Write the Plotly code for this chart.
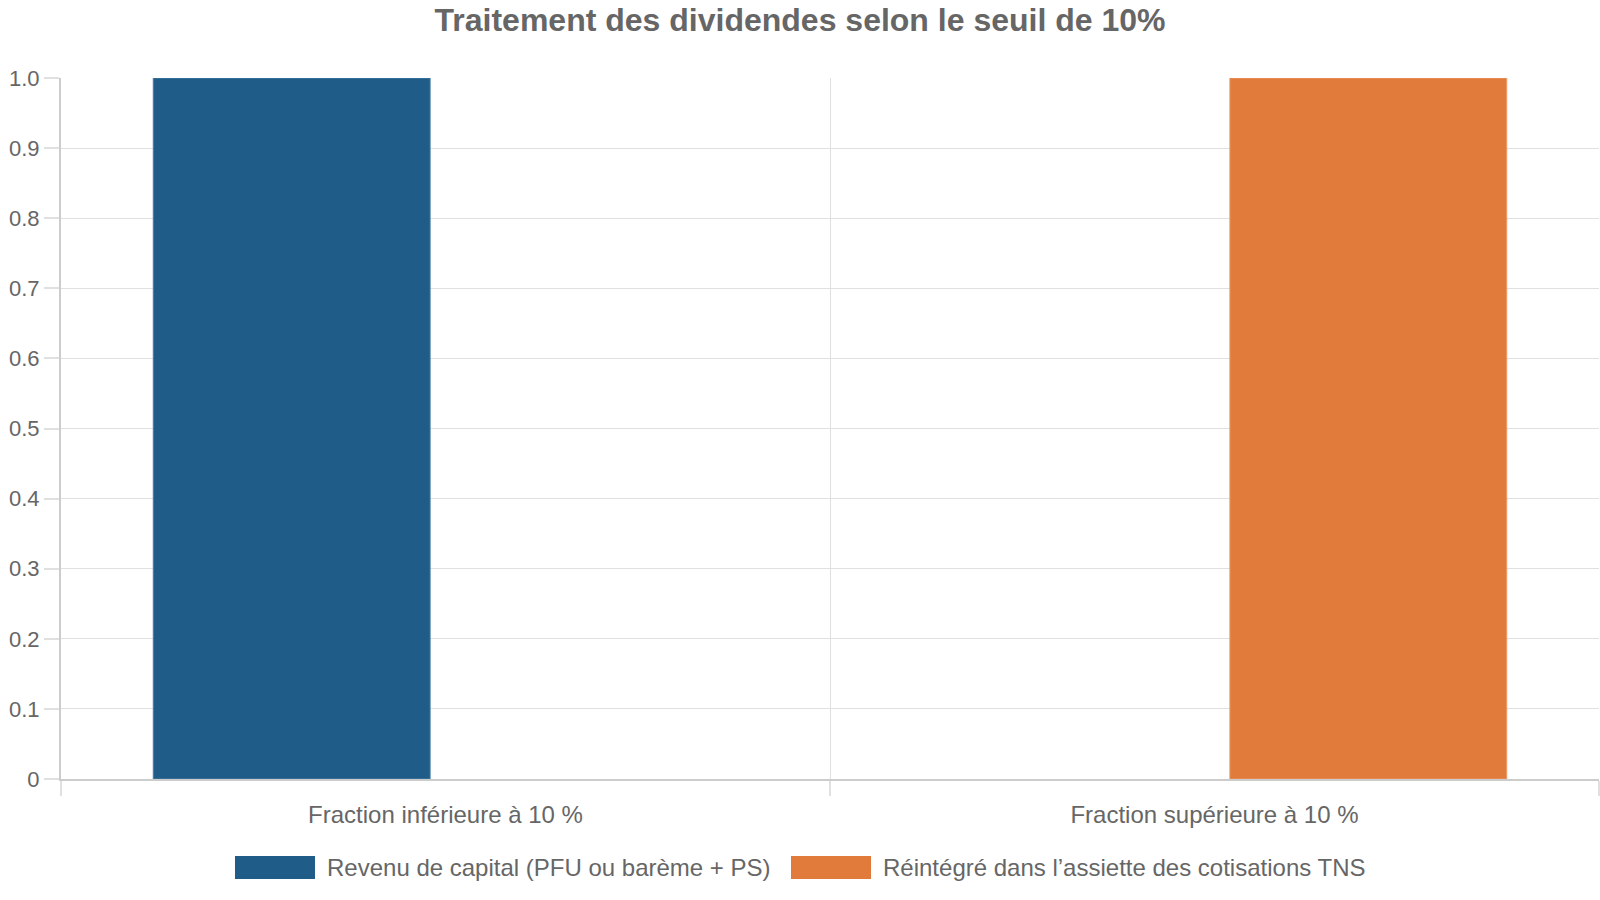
import plotly.graph_objects as go

# Chart data
categories = ["Fraction inférieure à 10 %", "Fraction supérieure à 10 %"]
series_names = ["Revenu de capital (PFU ou barème + PS)",
                "Réintégré dans l’assiette des cotisations TNS"]
capital_values = [1, 0]
tns_values = [0, 1]
y_ticks = [0, 0.1, 0.2, 0.3, 0.4, 0.5, 0.6, 0.7, 0.8, 0.9, 1.0]
y_tick_labels = ["0", "0.1", "0.2", "0.3", "0.4", "0.5", "0.6", "0.7", "0.8", "0.9", "1.0"]

colors = ["#1f5c87", "#e07b3b"]
borders = ["#4a7ea3", "#eb9a66"]
text_color = "#666666"
grid_color = "#e0e0e0"
font_family = "Liberation Sans, Arial, sans-serif"

W, H = 1600, 900
L, R, T, B = 61, 1, 78, 121

fig = go.Figure()
for name, vals, col, bcol in zip(series_names, [capital_values, tns_values], colors, borders):
    # no border on empty bars, otherwise a thin line shows on the axis
    fig.add_trace(go.Bar(x=categories, y=vals, name=name,
                         marker=dict(color=col,
                                     line=dict(color=bcol, width=[1 if v else 0 for v in vals]))))

fig.update_layout(
    width=W, height=H,
    margin=dict(l=L, r=R, t=T, b=B),
    paper_bgcolor="white", plot_bgcolor="white",
    barmode="group", bargap=0.2, bargroupgap=0.1,
    showlegend=False,
    font=dict(family=font_family, color=text_color, size=24),
    title=dict(text="<b>Traitement des dividendes selon le seuil de 10%</b>",
               x=0.5, xref="container", xanchor="center",
               y=1 - 20 / H, yref="container", yanchor="middle",
               font=dict(size=32, color=text_color, family=font_family)),
)

fig.update_xaxes(
    type="category", range=[-0.5, 1.5],
    tickson="boundaries", ticks="outside", ticklen=15, tickcolor=grid_color, tickwidth=2,
    showgrid=True, gridcolor=grid_color, gridwidth=1,
    showline=True, linecolor="#cccccc", linewidth=2,
    tickfont=dict(size=24, color=text_color), ticklabelstandoff=13,
    zeroline=False,
)
fig.update_yaxes(
    range=[0, 1], tickvals=y_ticks, ticktext=y_tick_labels,
    ticks="outside", ticklen=15, tickcolor=grid_color, tickwidth=2,
    showgrid=True, gridcolor=grid_color, gridwidth=1,
    showline=True, linecolor="#cccccc", linewidth=2,
    tickfont=dict(size=22, color=text_color),
    zeroline=False,
)

# Custom legend below the chart (wide colour boxes as in the original)
pw, ph = W - L - R, H - T - B


def px_x(px):
    return (px - L) / pw


def px_y(py):
    return (H - B - py) / ph


legend_boxes = [235, 791]
for bx, name, col in zip(legend_boxes, series_names, colors):
    fig.add_shape(type="rect", xref="paper", yref="paper",
                  x0=px_x(bx), x1=px_x(bx + 80), y0=px_y(879), y1=px_y(856),
                  fillcolor=col, line=dict(width=0))
    fig.add_annotation(xref="paper", yref="paper", x=px_x(bx + 90), y=px_y(867.5),
                       text=name, showarrow=False, xanchor="left", yanchor="middle",
                       font=dict(size=24, color=text_color, family=font_family))

fig.write_html("out.html", config={"displayModeBar": False},
               post_script="document.body.style.margin='0';document.body.style.overflow='hidden';")
